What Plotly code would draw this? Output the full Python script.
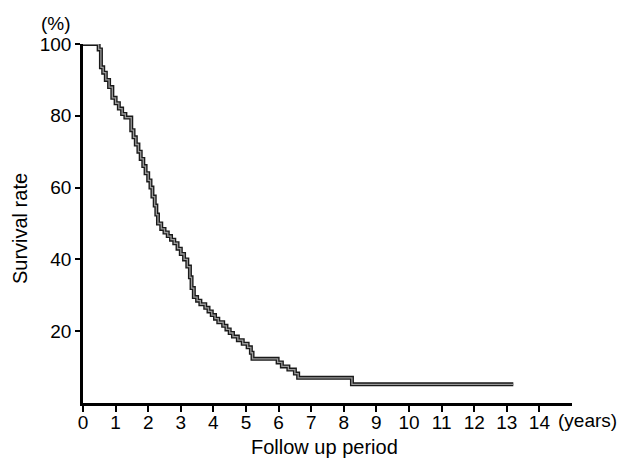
import plotly.graph_objects as go

# Kaplan-Meier style survival curve (step points: time in years, survival %)
times = [0, 0.48, 0.55, 0.62, 0.70, 0.80, 0.90, 1.00, 1.10, 1.20,
         1.30, 1.48, 1.55, 1.62, 1.70, 1.77, 1.85, 1.92, 2.00, 2.07,
         2.13, 2.20, 2.25, 2.30, 2.40, 2.50, 2.60, 2.70, 2.80, 2.90,
         3.00, 3.10, 3.20, 3.28, 3.33, 3.40, 3.50, 3.60, 3.75, 3.85,
         3.95, 4.05, 4.15, 4.30, 4.40, 4.50, 4.60, 4.75, 4.90, 5.05,
         5.15, 5.20, 5.97, 6.10, 6.30, 6.50, 6.60, 8.25, 13.20]
survival = [100, 98.5, 93.5, 92, 90, 88, 85, 83.5, 82, 80.5,
            79.5, 76, 74, 72, 70, 68, 66, 64, 62, 60,
            57.5, 55, 52.5, 50, 48.5, 47.5, 46.5, 45.5, 44.5, 43,
            41.5, 40, 38, 35, 32, 29.5, 28.5, 27.5, 26.5, 25.5,
            24.5, 23.5, 22.5, 21.5, 20.5, 19.5, 18.5, 17.5, 16.5, 15.5,
            14, 12.3, 11.3, 10.2, 9.3, 8.2, 7.0, 5.2, 5.2]

x_ticks = list(range(0, 15))
y_ticks = [20, 40, 60, 80, 100]

FONT = "Liberation Sans, Arial, Helvetica, sans-serif"

fig = go.Figure()
# outlined (double) line look: dark outer stroke + grey inner stroke
fig.add_trace(go.Scatter(x=times, y=survival, mode="lines", line_shape="hv",
                         line=dict(color="#1a1a1a", width=4), cliponaxis=False,
                         hoverinfo="skip", showlegend=False))
fig.add_trace(go.Scatter(x=times, y=survival, mode="lines", line_shape="hv",
                         line=dict(color="#9a9a9a", width=1.3), cliponaxis=False,
                         showlegend=False))

fig.update_layout(
    width=633, height=466,
    margin=dict(l=83, r=61, t=44, b=63),
    paper_bgcolor="white", plot_bgcolor="white",
    font=dict(family=FONT, size=19, color="black"),
    xaxis=dict(range=[0, 15], tickmode="array", tickvals=x_ticks,
               ticktext=[str(v) for v in x_ticks],
               showgrid=False, zeroline=False, showline=True, linecolor="black",
               linewidth=2.5, ticks="outside", ticklen=6, tickwidth=1.5,
               tickcolor="black", tickfont=dict(size=19), ticklabelstandoff=-6),
    yaxis=dict(range=[0, 100], tickmode="array", tickvals=y_ticks,
               ticktext=[str(v) for v in y_ticks],
               showgrid=False, zeroline=False, showline=True, linecolor="black",
               linewidth=2.5, ticks="outside", ticklen=5, tickwidth=1.5,
               tickcolor="black", tickfont=dict(size=19)),
    annotations=[
        dict(text="(%)", xref="paper", yref="paper", x=-0.055, y=1.056,
             showarrow=False, xanchor="center", yanchor="middle", font=dict(size=19)),
        dict(text="(years)", xref="paper", yref="paper", x=0.968, y=-0.050,
             showarrow=False, xanchor="left", yanchor="middle", font=dict(size=19)),
        dict(text="Follow up period", xref="paper", yref="paper", x=0.493, y=-0.122,
             showarrow=False, xanchor="center", yanchor="middle", font=dict(size=20)),
        dict(text="Survival rate", xref="paper", yref="paper", x=-0.129, y=0.487,
             showarrow=False, textangle=-90, xanchor="center", yanchor="middle",
             font=dict(size=20)),
    ],
)

fig.write_html("out.html")
